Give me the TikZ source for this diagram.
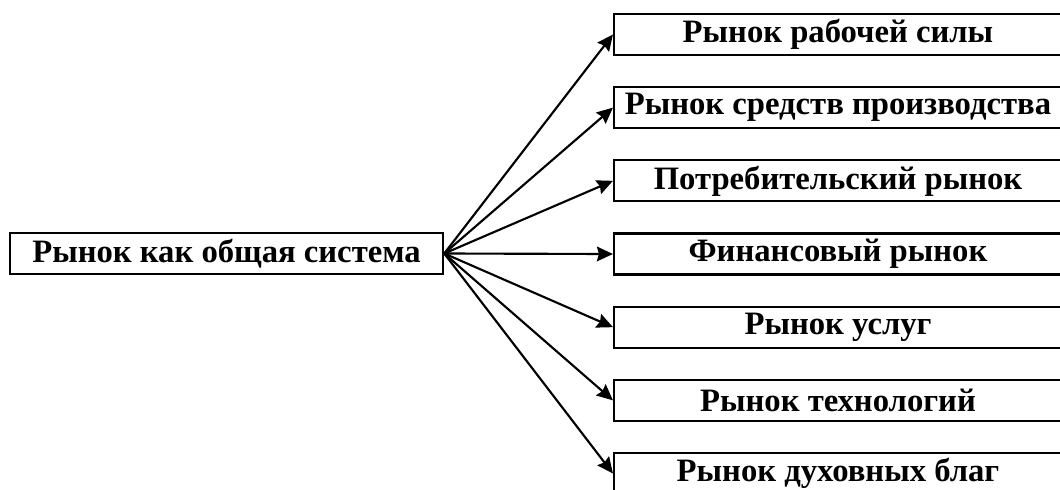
\documentclass[tikz,border=0pt]{standalone}
\usepackage{fontspec}
\setmainfont{Liberation Serif}
\usetikzlibrary{arrows.meta}

\begin{document}
\begin{tikzpicture}[x=0.75pt, y=-0.75pt, >={Stealth[length=12pt,width=11pt,inset=1.5pt]},
every node/.style={font=\fontsize{24.5}{29}\selectfont\bfseries},
marketbox/.style={draw, line width=1.6pt, inner sep=0pt, minimum height=30.75pt, minimum width=336pt}]
\useasboundingbox (0,0) rectangle (1060,489);
\clip (0,0) rectangle (1060,489);
\node[marketbox, minimum width=325pt] (whole) at (226.5,253.5) {Рынок как общая система};
\foreach \name [count=\i from 0] in {Рынок рабочей силы, Рынок средств производства,
  Потребительский рынок, Финансовый рынок, Рынок услуг, Рынок технологий,
  Рынок духовных благ}
{
  \node[marketbox] (m\i) at (838, {34.5+73.17*\i}) {\name};
  \draw[->, line width=1.6pt] (whole.east) -- (m\i.west);
}
\end{tikzpicture}
\end{document}
